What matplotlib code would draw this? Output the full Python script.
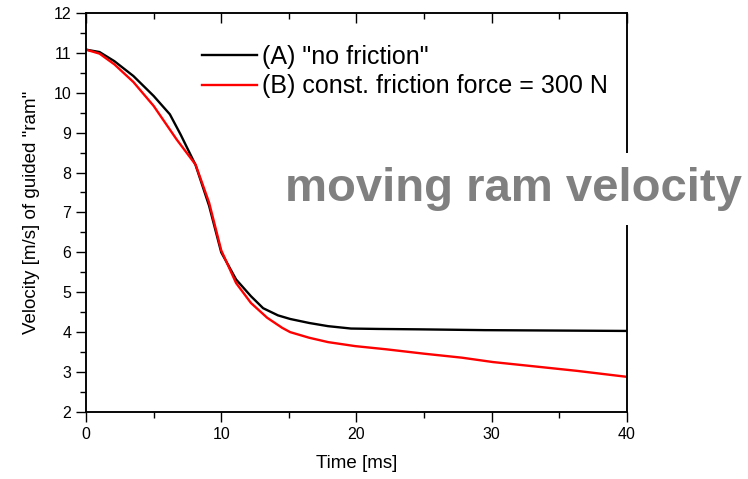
import matplotlib
matplotlib.use('Agg')
import matplotlib.pyplot as plt
from matplotlib.ticker import MultipleLocator

plt.rcParams['font.family'] = ['Liberation Sans', 'DejaVu Sans']

# Kurve A: ohne Reibung
t_a = [0, 1.0, 2.1, 3.5, 5.0, 6.2, 7.0, 8.1, 9.1, 10.0, 11.1, 12.2, 13.1, 14.2,
       15.1, 16.5, 17.9, 19.6, 21.6, 24.7, 29.5, 40]
v_a = [11.08, 11.02, 10.79, 10.42, 9.92, 9.46, 8.95, 8.19, 7.17, 6.0, 5.32, 4.90,
       4.60, 4.42, 4.33, 4.23, 4.15, 4.09, 4.08, 4.07, 4.05, 4.03]

# Kurve B: konstante Reibkraft 300 N
t_b = [0, 1.0, 2.1, 3.5, 5.0, 6.7, 8.1, 9.1, 10.0, 11.1, 12.2, 13.4, 14.5, 15.1,
       16.5, 17.9, 19.9, 22.2, 25.0, 27.8, 30.1, 33.5, 36.3, 40]
v_b = [11.08, 10.98, 10.71, 10.27, 9.67, 8.83, 8.20, 7.25, 6.05, 5.23, 4.73, 4.36,
       4.11, 4.00, 3.86, 3.75, 3.65, 3.57, 3.46, 3.36, 3.25, 3.13, 3.03, 2.88]

label_a = '(A) "no friction"'
label_b = '(B) const. friction force = 300 N'

fig = plt.figure(figsize=(7.48, 4.79), dpi=100)
ax = fig.add_axes([0.115, 0.140, 0.723, 0.833])

ax.plot(t_a, v_a, color='black', lw=1.7, label=label_a)
ax.plot(t_b, v_b, color='red', lw=1.7, label=label_b)

ax.set_xlim(0, 40)
ax.set_ylim(2, 12)
ax.xaxis.set_major_locator(MultipleLocator(10))
ax.xaxis.set_minor_locator(MultipleLocator(5))
ax.yaxis.set_major_locator(MultipleLocator(1))
ax.yaxis.set_minor_locator(MultipleLocator(0.5))

ax.tick_params(which='both', direction='out', top=False, right=False, labelsize=11.5, width=1)
ax.tick_params(which='major', length=7)
ax.tick_params(which='minor', length=4)
for sp in ax.spines.values():
    sp.set_linewidth(1.1)

# obere Achse: Ticks nach innen, ohne Beschriftung
top = ax.twiny()
top.set_xlim(ax.get_xlim())
top.xaxis.set_major_locator(MultipleLocator(10))
top.xaxis.set_minor_locator(MultipleLocator(5))
top.tick_params(which='both', direction='in', labeltop=False, width=1)
top.tick_params(which='major', length=7)
top.tick_params(which='minor', length=4)
for sp in top.spines.values():
    sp.set_linewidth(1.1)

ax.set_xlabel('Time [ms]', fontsize=13.5, labelpad=10)
ax.set_ylabel('Velocity [m/s] of guided "ram"', fontsize=13.5, labelpad=10)

ax.legend(loc='upper left', bbox_to_anchor=(0.215, 0.92), frameon=False,
          fontsize=18, handlelength=2.2, handletextpad=0.2, labelspacing=0.22,
          borderpad=0, borderaxespad=0)

fig.text(285 / 748, 1 - 201 / 479, 'moving ram velocity', fontsize=34,
         fontweight='bold', color='#808080', va='baseline', ha='left',
         bbox=dict(facecolor='white', edgecolor='none', boxstyle='square,pad=0.3'))

plt.savefig('out.png', dpi=100)
